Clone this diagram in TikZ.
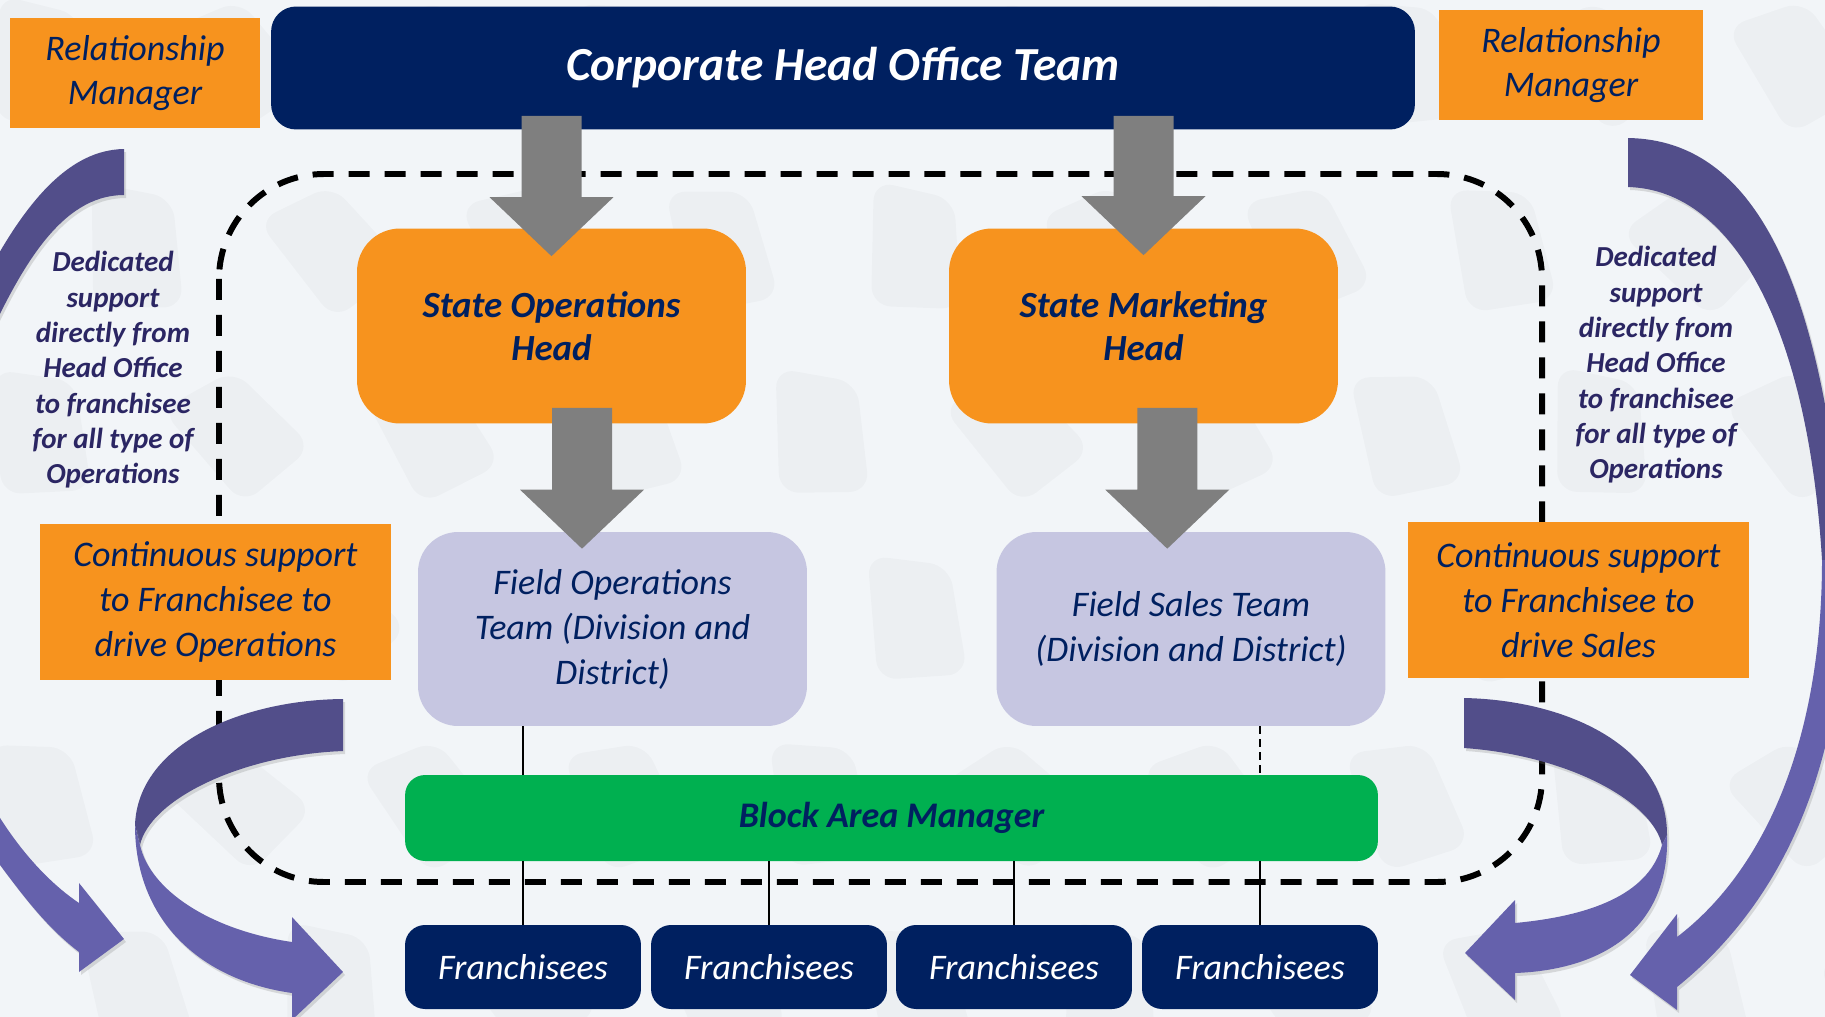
\documentclass[tikz,border=0pt]{standalone}
\usepackage{fontspec}
\setmainfont{Carlito}
\usepackage{xcolor}
\usetikzlibrary{calc,shadows}

\definecolor{slide}{HTML}{F2F5F8}
\definecolor{navy}{HTML}{002060}
\definecolor{boxorange}{HTML}{F7931E}
\definecolor{lavender}{HTML}{C6C6E1}
\definecolor{bamgreen}{HTML}{00B050}
\definecolor{fatgray}{HTML}{7F7F7F}
\definecolor{ribbondark}{HTML}{524E8A}
\definecolor{ribbonlight}{HTML}{6561AC}
\definecolor{notetext}{HTML}{2B2663}

% fat grey down arrow from shaft top #1 to tip #2
\newcommand\fatarrow[2]{%
  \fill[fatgray] let \p1=(#1), \p2=(#2) in
    (\x1-0.6cm,\y1) -- (\x1+0.6cm,\y1) -- (\x1+0.6cm,\y2+1.18cm) -- (\x1+1.24cm,\y2+1.18cm)
    -- (\x1,\y2) -- (\x1-1.24cm,\y2+1.18cm) -- (\x1-0.6cm,\y2+1.18cm) -- cycle;}

\tikzset{
  every node/.style={align=center, inner sep=0pt},
  headbox/.style={fill=navy, text=white, rounded corners=0.5cm, minimum width=22.88cm, minimum height=2.46cm,
    font=\fontsize{27}{32}\selectfont\bfseries\itshape},
  rmbox/.style={fill=boxorange, text=navy, minimum height=2.22cm, font=\fontsize{20.5}{25}\selectfont\itshape},
  supportbox/.style={fill=boxorange, text=navy, minimum height=3.12cm, font=\fontsize{20.5}{25.6}\selectfont\itshape},
  statebox/.style={fill=boxorange, text=navy, rounded corners=0.86cm, minimum width=7.78cm, minimum height=3.9cm,
    font=\fontsize{21}{24.5}\selectfont\bfseries\itshape},
  fieldbox/.style={fill=lavender, text=navy, rounded corners=0.8cm, minimum width=7.78cm, minimum height=3.88cm,
    font=\fontsize{20.5}{25.6}\selectfont\itshape},
  bambox/.style={fill=bamgreen, text=navy, rounded corners=0.4cm, minimum width=19.46cm, minimum height=1.72cm,
    font=\fontsize{20.5}{25}\selectfont\bfseries\itshape},
  franbox/.style={fill=navy, text=white, rounded corners=0.4cm, minimum width=4.72cm, minimum height=1.68cm,
    font=\fontsize{20.5}{25}\selectfont\itshape},
  note/.style={text=notetext, font=\fontsize{16.5}{20.1}\selectfont\bfseries\itshape},
  frame/.style={line width=3.4pt, dash pattern=on 0.42cm off 0.3cm, rounded corners=2.1cm},
  link/.style={line width=0.6pt},
  ribbon/.style={drop shadow={opacity=0.25, shadow xshift=0.04cm, shadow yshift=-0.06cm}},
}

\begin{document}
\begin{tikzpicture}[x=0.02cm, y=-0.02cm]
\useasboundingbox (0,0) rectangle (1825,1017);
\clip (0,0) rectangle (1825,1017);
\fill[slide] (0,0) rectangle (1825,1017);

% faint pebbles in the backdrop
\foreach \i in {0,...,9}{\foreach \j in {0,...,5}{
  \pgfmathsetmacro\px{\i*195+mod(\j,2)*95+40}
  \pgfmathsetmacro\py{\j*185+60}
  \pgfmathsetmacro\ang{mod(\i*37+\j*53,50)}
  \fill[black, opacity=0.025, rounded corners=0.4cm, rotate around={\ang:(\px,\py)}]
    (\px-40,\py-65) -- (\px+40,\py-45) -- (\px+45,\py+65) -- (\px-45,\py+60) -- cycle;}}

% dashed state boundary
\draw[frame] (219,174) rectangle (1542,882);

% boxes
\node[headbox] (head) at (843,68) {Corporate Head Office Team};
\node[rmbox, minimum width=5cm] (rmL) at (135,73) {Relationship\\Manager};
\node[rmbox, minimum width=5.28cm] (rmR) at (1571,65) {Relationship\\Manager};
\node[statebox] (soh) at (551.5,326) {State Operations\\Head};
\node[statebox] (smh) at (1143.5,326) {State Marketing\\Head};
\node[fieldbox] (fops) at (612.5,629) {Field Operations\\Team (Division and\\District)};
\node[fieldbox] (fsales) at (1191,629) {Field Sales Team\\(Division and District)};
\node[bambox] (bam) at (891.5,818) {Block Area Manager};
\foreach \k/\cx in {1/523,2/769,3/1014,4/1260}
  \node[franbox] (fr\k) at (\cx,967) {Franchisees};
\node[supportbox, minimum width=7.02cm] (supL) at (215.5,602) {Continuous support\\to Franchisee to\\drive Operations};
\node[supportbox, minimum width=6.82cm] (supR) at (1578.5,600) {Continuous support\\to Franchisee to\\drive Sales};
\node[note] (noteL) at (113,370) {Dedicated\\support\\directly from\\Head Office\\to franchisee\\for all type of\\Operations};
\node[note] (noteR) at (1656,365) {Dedicated\\support\\directly from\\Head Office\\to franchisee\\for all type of\\Operations};

% curved support ribbons
\fill[ribbondark, ribbon] (124,149) .. controls (60,150) and (10,220) .. (-40,330)
  -- (-15,345) .. controls (20,270) and (60,195) .. (124,195) -- cycle;
\fill[ribbonlight, ribbon] (-30,760) .. controls (-10,810) and (30,870) .. (79,903)
  -- (79,883) -- (124,939) -- (79,972) -- (79,952) .. controls (30,915) and (0,860) .. (-50,800) -- cycle;
\fill[ribbondark, ribbon] (343,699) .. controls (240,700) and (138,745) .. (135,825)
  -- (140,845) .. controls (150,800) and (240,755) .. (343,751) -- cycle;
\fill[ribbonlight, ribbon] (135,825) .. controls (135,920) and (200,980) .. (292,993)
  -- (292,1020) -- (343,972) -- (292,917) -- (292,942) .. controls (210,930) and (150,890) .. (140,845) -- cycle;
\fill[ribbondark, ribbon] (1464,698) .. controls (1565,700) and (1667,745) .. (1667,835)
  -- (1662,845) .. controls (1652,800) and (1565,755) .. (1464,748) -- cycle;
\fill[ribbonlight, ribbon] (1667,835) .. controls (1670,930) and (1600,970) .. (1515,973)
  -- (1515,1000) -- (1465,953) -- (1515,900) -- (1515,923) .. controls (1600,915) and (1650,890) .. (1662,845) -- cycle;
\fill[ribbondark, ribbon] (1628,138) .. controls (1755,140) and (1822,280) .. (1845,560)
  -- (1822,560) .. controls (1808,330) and (1735,190) .. (1628,187) -- cycle;
\fill[ribbonlight, ribbon] (1845,560) .. controls (1848,760) and (1785,900) .. (1677,987)
  -- (1677,1010) -- (1630,975) -- (1677,914) -- (1677,937) .. controls (1765,870) and (1822,740) .. (1822,560) -- cycle;

% reporting arrows
\fatarrow{$(head.south -| soh.north)+(0,-14)$}{$(soh.north)+(0,28)$}
\fatarrow{$(head.south -| smh.north)+(0,-14)$}{$(smh.north)+(0,27)$}
\fatarrow{$(soh.south)!.5!(soh.south -| fops.north)+(0,-16)$}{$(fops.north)!.5!(fops.north -| soh.south)+(0,17)$}
\fatarrow{$(smh.south)!.5!(smh.south -| fsales.north)+(0,-16)$}{$(fsales.north)!.5!(fsales.north -| smh.south)+(0,17)$}

% thin links
\draw[link] (fops.south -| fr1.north) -- (bam.north -| fr1.north);
\draw[link, dash pattern=on 0.16cm off 0.1cm] (fsales.south -| fr4.north) -- (bam.north -| fr4.north);
\foreach \k in {1,...,4}
  \draw[link] (bam.south -| fr\k.north) -- (fr\k.north);
\end{tikzpicture}
\end{document}
